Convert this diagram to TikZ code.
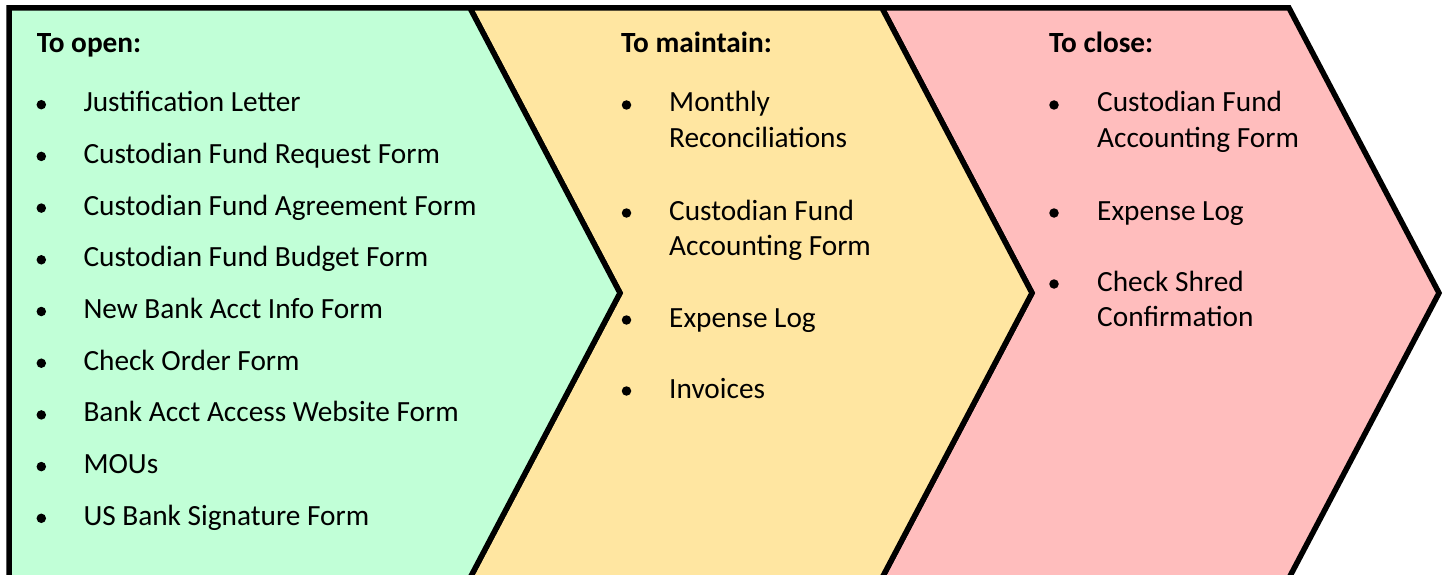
\documentclass[tikz,border=0pt]{standalone}
\usepackage{fontspec}
\setmainfont{Carlito}
\definecolor{gfill}{HTML}{C1FFD7}
\definecolor{yfill}{HTML}{FFE6A1}
\definecolor{pfill}{HTML}{FFBDBD}
\tikzset{
  chev/.style={draw=black, line width=5.5pt, line join=miter},
  item/.style={anchor=base west, inner sep=0pt, font=\fontsize{29.3}{35}\selectfont},
  head/.style={anchor=base west, inner sep=0pt, font=\fontsize{29.3}{35}\selectfont\bfseries},
  dot/.style={circle, fill=black, inner sep=0pt, minimum size=9.5pt},
}
\begin{document}
\begin{tikzpicture}[x=1pt, y=-1pt]
\useasboundingbox (0,0) rectangle (1445,575);
\clip (0,0) rectangle (1445,575);
% chevrons
\draw[chev, fill=pfill] (882,8) -- (1289,8) -- (1439,293) -- (1289,578) -- (882,578) -- (1032,293) -- cycle;
\draw[chev, fill=yfill] (470,8) -- (882,8) -- (1032,293) -- (882,578) -- (470,578) -- (620,293) -- cycle;
\draw[chev, fill=gfill] (9,8) -- (470,8) -- (620,293) -- (470,578) -- (9,578) -- cycle;
% green column
\node[head] (gh) at (36.7,52.7) {To open:};
\foreach \t [count=\i] in {Justification Letter, Custodian Fund Request Form, Custodian Fund Agreement Form, Custodian Fund Budget Form, New Bank Acct Info Form, Check Order Form, Bank Acct Access Website Form, MOUs, US Bank Signature Form}{
  \pgfmathsetmacro{\yb}{111.7+51.7*(\i-1)}
  \node[dot] (gb\i) at (41.3,\yb-7) {};
  \node[item] (gt\i) at (83.3,\yb) {\t};
}
% yellow column
\node[head] (yh) at (621,52.7) {To maintain:};
\node[dot] (yb1) at (626.5,105) {};
\node[item] (yt1a) at (669,112) {Monthly};
\node[item] (yt1b) at (669,147) {Reconciliations};
\node[dot] (yb2) at (626.5,213) {};
\node[item] (yt2a) at (669,220) {Custodian Fund};
\node[item] (yt2b) at (669,255) {Accounting Form};
\node[dot] (yb3) at (626.5,320) {};
\node[item] (yt3) at (669,327) {Expense Log};
\node[dot] (yb4) at (626.5,391) {};
\node[item] (yt4) at (669,398) {Invoices};
% pink column
\node[head] (ph) at (1049,52.7) {To close:};
\node[dot] (pb1) at (1054,105) {};
\node[item] (pt1a) at (1097,112) {Custodian Fund};
\node[item] (pt1b) at (1097,147) {Accounting Form};
\node[dot] (pb2) at (1054,213) {};
\node[item] (pt2) at (1097,220) {Expense Log};
\node[dot] (pb3) at (1054,284) {};
\node[item] (pt3a) at (1097,291) {Check Shred};
\node[item] (pt3b) at (1097,326) {Confirmation};
\end{tikzpicture}
\end{document}
